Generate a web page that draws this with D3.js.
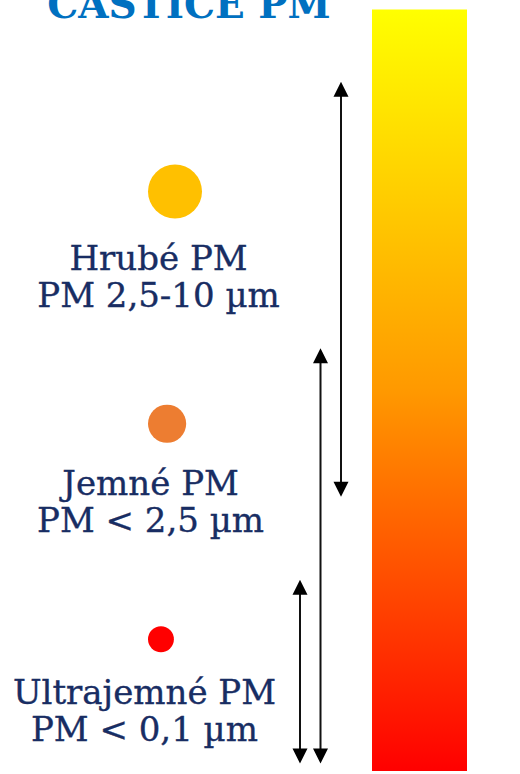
<!DOCTYPE html>
<html>
<head>
<meta charset="utf-8">
<script src="https://cdn.jsdelivr.net/npm/d3@7"></script>
<style>
  body { margin: 0; background: #fff; }
</style>
</head>
<body>
<svg id="chart" width="520" height="774"></svg>
<script>
const title = "ČÁSTICE PM"
const categories = ["Hrubé PM", "Jemné PM", "Ultrajemné PM"]
const sizeLabels = ["PM 2,5-10 µm", "PM < 2,5 µm", "PM < 0,1 µm"]
const dotColors = ["#FFC000", "#ED7D31", "#FF0000"]
// relative particle size drawn as the dot
const relSize = [10, 5, 2.3]
// schematic level on the size bar (0 = bottom, 100 = top)
const dotLevel = [76.1, 45.6, 17.3]
const arrowFrom = [36, 1, 1]
const arrowTo = [90.5, 55.5, 25.1]
const barStops = [
  { offset: 0, color: "#FFFF00" },
  { offset: 0.5, color: "#FF9900" },
  { offset: 1, color: "#FF0000" }
]

const width = 520
const height = 774
const svg = d3.select("#chart")

const y = d3.scaleLinear().domain([0, 100]).range([771, 9.5])
const r = d3.scaleSqrt().domain([0, 10]).range([0, 27])
const xArrow = d3.scalePoint().domain([2, 1, 0]).range([300, 341])
const dotLeft = 148
const textShift = -16.5
const textColor = "#182D63"
const labelFont = "'DejaVu Serif', serif"

const defs = svg.append("defs")
const grad = defs.append("linearGradient")
  .attr("id", "bar")
  .attr("x1", 0).attr("y1", 0).attr("x2", 0).attr("y2", 1)
grad.selectAll("stop")
  .data(barStops)
  .join("stop")
  .attr("offset", d => d.offset)
  .attr("stop-color", d => d.color)

// gradient bar
svg.append("rect")
  .attr("x", 372)
  .attr("y", y(100))
  .attr("width", 95)
  .attr("height", y(0) - y(100))
  .attr("fill", "url(#bar)")

// title (cut by the top edge, as in the slide)
svg.append("text")
  .attr("x", 189)
  .attr("y", 18)
  .attr("text-anchor", "middle")
  .attr("font-family", labelFont)
  .attr("font-weight", "bold")
  .attr("font-size", 39)
  .attr("fill", "#0070C0")
  .text(title)

// arrows: line plus a head at each end
const arrows = svg.append("g")
  .selectAll("g")
  .data(categories.map((c, i) => ({ i, from: arrowFrom[i], to: arrowTo[i] })))
  .join("g")

arrows.append("line")
  .attr("x1", d => xArrow(d.i))
  .attr("x2", d => xArrow(d.i))
  .attr("y1", d => y(d.to) + 12)
  .attr("y2", d => y(d.from) - 12)
  .attr("stroke", "#111")
  .attr("stroke-width", 2)

arrows.append("path")
  .attr("d", d => {
    const x = xArrow(d.i), t = y(d.to), b = y(d.from)
    return `M${x},${t} l7.5,15 l-15,0 Z M${x},${b} l7.5,-15 l-15,0 Z`
  })
  .attr("fill", "#000")

// dots and labels
const groups = svg.append("g")
  .selectAll("g")
  .data(categories.map((c, i) => {
    const rr = r(relSize[i])
    return { c, label: sizeLabels[i], color: dotColors[i], rr, cx: dotLeft + rr, cy: y(dotLevel[i]) }
  }))
  .join("g")

groups.append("circle")
  .attr("cx", d => d.cx)
  .attr("cy", d => d.cy)
  .attr("r", d => d.rr)
  .attr("fill", d => d.color)

const labels = groups.append("text")
  .attr("y", d => d.cy + d.rr + 52)
  .attr("text-anchor", "middle")
  .attr("font-family", labelFont)
  .attr("font-size", 34)
  .attr("fill", textColor)
  .attr("stroke", textColor)
  .attr("stroke-width", 0.35)

labels.append("tspan")
  .attr("x", d => d.cx + textShift)
  .text(d => d.c)
labels.append("tspan")
  .attr("x", d => d.cx + textShift)
  .attr("dy", 37)
  .text(d => d.label)
</script>
</body>
</html>
